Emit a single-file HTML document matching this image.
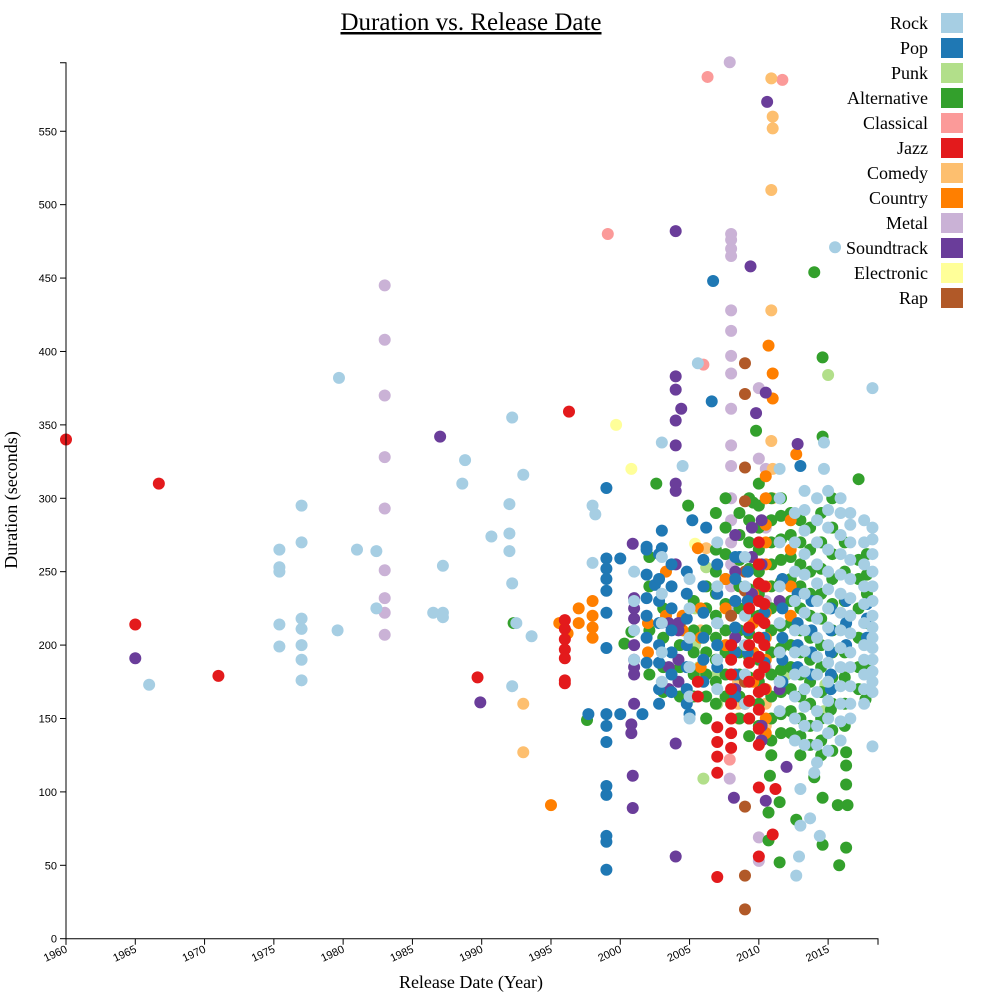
<!DOCTYPE html>
<html><head><meta charset="utf-8"><style>
body{margin:0;background:#fff;}
svg{display:block;}
</style></head><body>
<svg id="chart" width="985" height="999" xmlns="http://www.w3.org/2000/svg">
<text x="471" y="30" text-anchor="middle" font-family="Liberation Serif, serif" font-size="25" text-decoration="underline">Duration vs. Release Date</text>
<text transform="translate(17,500) rotate(-90)" text-anchor="middle" font-family="Liberation Serif, serif" font-size="18">Duration (seconds)</text>
<text x="471" y="988" text-anchor="middle" font-family="Liberation Serif, serif" font-size="18">Release Date (Year)</text>
<g id="marks"></g>
<g id="axes"></g>
<g id="legend"></g>
</svg>
<script>
const genres=["Rock","Pop","Punk","Alternative","Classical","Jazz","Comedy","Country","Metal","Soundtrack","Electronic","Rap"];
const colors=["#a6cee3","#1f78b4","#b2df8a","#33a02c","#fb9a99","#e31a1c","#fdbf6f","#ff7f00","#cab2d6","#6a3d9a","#ffff99","#b15928"];
const xTicks=[1960,1965,1970,1975,1980,1985,1990,1995,2000,2005,2010,2015];
const yTicks=[0,50,100,150,200,250,300,350,400,450,500,550];
const drawOrder=["Metal","Classical","Electronic","Punk","Comedy","Alternative","Country","Rap","Soundtrack","Pop","Rock","Jazz"];

const rockPts=[[1966,173],[1975.4,265],[1975.4,253],[1975.4,250],[1975.4,214],[1975.4,199],[1977,295],[1977,270],[1977,218],[1977,211],[1977,200],[1977,190],[1977,176],[1979.7,382],[1979.6,210],[1981,265],[1982.4,264],[1982.4,225],[1986.5,222],[1987.2,222],[1987.2,219],[1987.2,254],[1988.8,326],[1988.6,310],[1990.7,274],[1992,296],[1992,276],[1992,264],[1992.2,242],[1992.2,172],[1992.5,215],[1993,316],[1993.6,206],[1992.2,355],[1998,295],[1998.2,289],[1998,256],[2005.6,392],[2003,338],[2004.5,322],[2015.5,471],[2018.2,375],[2018.2,131],[2014.4,70],[2012.7,43],[2012.9,56],[2013,77],[2013.7,82],[2013,102],[2014,113],[2014.7,338],[2014.7,320]];
const rockCols=[[2018.2,[280,272,262,250,240,230,220,212,205,198,190,182,175,168]],[2017.6,[285,270,255,240,228,215,200,190,180,170,160]],[2016.6,[290,282,270,258,245,232,220,208,195,185,172,160,150]],[2015.9,[300,290,275,262,248,235,222,210,198,185,172,160,148,135]],[2015,[305,292,280,265,250,238,225,212,200,188,175,162,150,140,128]],[2014.2,[300,285,270,255,242,230,218,205,192,180,168,155,145,132,120]],[2013.3,[305,292,278,262,248,235,222,210,196,182,170,158,145,132]],[2012.6,[290,270,250,230,210,195,180,165,150,135]],[2011.5,[320,300,270,240,215,195,175,155]],[2009,[260,240,220,200,180,160]],[2007,[270,240,215,190,170]],[2005,[245,225,205,185,165,150]],[2003,[260,235,215,195,175]],[2001,[250,230,210,190]]];
const popPts=[[1999,307],[1999,259],[1999,252],[1999,245],[1999,237],[1999,222],[1999,198],[1997.7,153],[1999,153],[1999,145],[1999,134],[1999,104],[1999,98],[1999,70],[1999,66],[1999,47],[2006.7,448],[2006.6,366],[2002.5,241],[2000,259],[2000,153],[2001.6,153],[2001.9,267],[2003,278],[2003,266],[2005.2,285],[2006.2,280],[2008.6,260],[2013,322],[2005,153]];
const popCols=[[2001.9,[265,248,232,220,205,188]],[2002.8,[262,245,230,215,200,188,170,160]],[2003.7,[255,240,225,210,195,180,168]],[2004.8,[250,235,218,200,185,170,160]],[2006,[258,240,222,205,190,175]],[2007,[255,235,215,200,185]],[2008.3,[260,245,230,212,195,180,165]],[2009.2,[250,230,210,195]],[2010.4,[240,222,205,188,170]],[2011.7,[245,225,205,190,175]],[2012.8,[235,215,200,185]],[2013.8,[230,210,195,180]],[2015.2,[225,210,195,180,170]],[2016.3,[230,215,200]],[2017.8,[228,218,205]]];
const punkPts=[[2015,384],[2006,109],[2006.2,253],[2014.8,173],[2014.7,155],[2005.7,185],[2005.4,225],[2005.4,200],[2005.4,180],[2007,180],[2007,160],[2013.7,160],[2013.7,180],[2012,180]];
const altPts=[[2014,454],[2014.6,396],[2014.6,342],[2009.8,346],[2017.2,313],[2002.6,310],[2004.9,295],[2009.6,297],[2015.8,50],[2016.3,62],[2016.3,105],[2016.4,91],[2015.7,91],[2014.6,64],[2014.6,96],[2014,110],[2012.7,81],[2011.5,52],[2011.5,93],[2010.7,86],[2010.7,67],[2010.8,111],[2000.3,201],[1997.6,149],[1992.3,215],[2000.8,209],[2017.7,163],[2017.7,186],[2016.3,127],[2016.3,118],[2015.2,156]];
const altCols=[[2004.3,[215,200,185,165]],[2005.3,[230,210,195,180,165]],[2006.2,[240,225,210,195,180,165,150]],[2006.9,[290,265,250,235,220,205,190,175,160]],[2007.6,[300,280,262,245,228,210,195,180,165]],[2008.6,[290,275,258,240,225,210,195,180,165,150]],[2009.3,[300,285,270,252,238,222,208,192,178,162,150,138]],[2010,[310,295,280,265,250,235,220,205,190,175,160,145]],[2010.9,[300,285,270,255,240,225,210,195,180,165,150,135,125]],[2011.6,[300,288,272,258,243,228,213,198,183,168,153,140]],[2012.3,[290,275,260,245,230,215,200,185,170,155,140]],[2013,[285,270,255,240,225,210,195,180,165,150,138,125]],[2013.7,[280,265,250,235,220,205,190,175,160,145,132]],[2014.5,[290,270,252,235,218,200,185,168,150,135,125]],[2015.3,[300,280,262,245,228,210,195,178,160,142,128]],[2016.2,[270,250,230,212,195,178,160,145]],[2017.2,[258,245,225,205,185,170]],[2017.8,[262,248,235,215]],[2003.1,[225,205,185,168]],[2002.1,[260,240,210,180]]];
const classicalPts=[[2006.3,587],[2011.7,585],[1999.1,480],[2006,391],[2007.9,122]];
const jazzPts=[[1960,340],[1965,214],[1966.7,310],[1971,179],[1989.7,178],[1996.3,359],[1996,217],[1996,211],[1996,204],[1996,197],[1996,191],[1996,176],[1996,174],[2007,42],[2007,113],[2007,124],[2007,134],[2007,144],[2011,71],[2010,56],[2010,103],[2011.2,102]];
const jazzCols=[[2008,[200,190,180,170,160,150,140,130]],[2009.3,[225,212,200,188,175,162,150]],[2010,[270,255,242,230,218,205,192,180,168,156,143,132]],[2010.4,[240,228,215,200,185,170]],[2005.6,[175,165]]];
const comedyPts=[[2010.9,586],[2011,560],[2011,552],[2010.9,510],[2010.9,428],[1993,160],[1993,127],[2006.2,266],[2010.9,339],[2008.5,175],[2008.5,160],[2008.5,150],[2010.5,160],[2010.5,145],[2010.5,138],[2011,320],[2011,300],[2005.8,210]];
const countryPts=[[1995,91],[2010.7,404],[2011,385],[2011,368],[2012.7,330],[2005.6,266],[1995.6,215],[1996.2,208],[1997,225],[1997,215],[1998,230],[1998,220],[1998,212],[1998,205]];
const countryCols=[[2004.5,[220,210]],[2005.8,[225,205,185]],[2007.6,[245,225,200]],[2009.6,[235,215,195,175]],[2010.5,[315,300,282,270,255,240,222,205,190,170,150,140]],[2012.3,[285,265,240,220]],[2002,[215,195]],[2003.3,[250,220]]];
const metalPts=[[2007.9,597],[1983,445],[1983,408],[1983,370],[1983,328],[1983,293],[1983,251],[1983,232],[1983,222],[1983,207],[2008,480],[2008,476],[2008,470],[2008,465],[2008,428],[2008,414],[2008,397],[2008,385],[2008,361],[2010,375],[2008,336],[2008,322],[2010,327],[2007.9,109],[2010,69],[2010,53]];
const metalCols=[[2008,[300,285,270,255,240,225,210,200]],[2010.5,[320,300,280,230,185]]];
const soundPts=[[1965,191],[1987,342],[1989.9,161],[2004,482],[2004,383],[2004,374],[2004.4,361],[2004,353],[2004,336],[2004,310],[2004,305],[2004,255],[2004,133],[2004,56],[2009.4,458],[2010.6,570],[2009.8,358],[2010.5,372],[2012.8,337],[2000.9,269],[2000.9,111],[2000.9,89],[2000.8,146],[2000.8,140],[2008.2,96],[2010.5,94],[2012,117]];
const soundCols=[[2001,[232,225,218,200,190,185,180,160]],[2003.5,[215,185,170]],[2004.2,[215,210,190,175]],[2008.3,[275,250,230,205,170]],[2009.5,[280,260,235]],[2010.2,[285,255,135,145]],[2011.5,[230,195,170]]];
const elecPts=[[1999.7,350],[2000.8,320],[2005.4,269],[2006,205],[2011,195]];
const rapPts=[[2009,392],[2009,371],[2009,321],[2009,298],[2009,250],[2009,237],[2009,90],[2009,43],[2009,20],[2008,220],[2008,200],[2009,175],[2009,160],[2004.3,215]];

function expand(pts,cols){const out=pts.slice();(cols||[]).forEach(c=>c[1].forEach(d=>out.push([c[0],d])));return out;}
const series={
 "Rock":expand(rockPts,rockCols),"Pop":expand(popPts,popCols),"Punk":expand(punkPts),"Alternative":expand(altPts,altCols),
 "Classical":expand(classicalPts),"Jazz":expand(jazzPts,jazzCols),"Comedy":expand(comedyPts),"Country":expand(countryPts,countryCols),
 "Metal":expand(metalPts,metalCols),"Soundtrack":expand(soundPts,soundCols),"Electronic":expand(elecPts),"Rap":expand(rapPts)};

const X0=66,X1=878,Y0=938.7,Y1=62.7;
const xMin=1960,xMax=2018.6,yMin=0,yMax=596.7;
function xs(v){return X0+(v-xMin)/(xMax-xMin)*(X1-X0);}
function ys(v){return Y0-(v-yMin)/(yMax-yMin)*(Y0-Y1);}
const NS="http://www.w3.org/2000/svg";
function mk(tag,attrs){const e=document.createElementNS(NS,tag);for(const k in attrs)e.setAttribute(k,attrs[k]);return e;}

const marks=document.getElementById('marks');
drawOrder.forEach(g=>{
  const col=colors[genres.indexOf(g)];
  series[g].forEach(p=>{
    const c=mk('circle',{cx:xs(p[0]),cy:ys(p[1]),r:6,fill:col});
    
    
    marks.appendChild(c);
  });
});

const axes=document.getElementById('axes');
const yl=mk('path',{d:`M${X0-6},${Y1}H${X0}V${Y0}`,stroke:'#000',fill:'none','stroke-width':1});


axes.appendChild(yl);
const xl=mk('path',{d:`M${X0},${Y0+6}V${Y0}H${X1}V${Y0+6}`,stroke:'#000',fill:'none','stroke-width':1});


axes.appendChild(xl);
yTicks.forEach(t=>{
  const y=ys(t);
  const l=mk('line',{x1:X0-6,x2:X0,y1:y,y2:y,stroke:'#000'});
  
  
  axes.appendChild(l);
  const tx=mk('text',{x:X0-9,y:y+4,'text-anchor':'end','font-family':'Liberation Sans, sans-serif','font-size':11});
  tx.textContent=t;
  
  
  axes.appendChild(tx);
});
xTicks.forEach(t=>{
  const x=xs(t);
  const l=mk('line',{x1:x,x2:x,y1:Y0,y2:Y0+6,stroke:'#000'});
  
  
  axes.appendChild(l);
  const tx=mk('text',{transform:`translate(${x+2},${Y0+13}) rotate(-25)`,'text-anchor':'end','font-family':'Liberation Sans, sans-serif','font-size':11});
  tx.textContent=t;
  
  
  axes.appendChild(tx);
});

const leg=document.getElementById('legend');
genres.forEach((g,i)=>{
  const y=13+i*25;
  const r=mk('rect',{x:941,y:y,width:22,height:20,fill:colors[i]});
  
  
  leg.appendChild(r);
  const t=mk('text',{x:928,y:y+16,'text-anchor':'end','font-family':'Liberation Serif, serif','font-size':18});
  t.textContent=g;
  
  
  leg.appendChild(t);
});
</script>
</body></html>
